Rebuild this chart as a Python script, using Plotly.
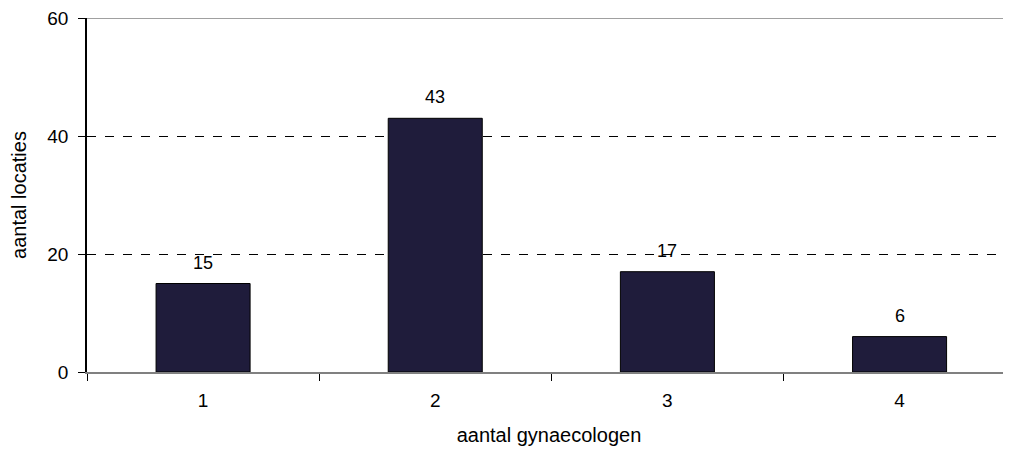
import plotly.graph_objects as go

categories = ["1", "2", "3", "4"]
values = [15, 43, 17, 6]
y_ticks = [0, 20, 40, 60]

FONT = "Liberation Sans, Arial"

fig = go.Figure()
fig.add_trace(go.Bar(
    x=categories, y=values,
    marker=dict(color="#1F1C3B", line=dict(color="black", width=1)),
    width=0.405,
))
for i, v in enumerate(values):
    fig.add_annotation(x=i, y=v, xref="x", yref="y", text=str(v), showarrow=False, yshift=21,
                       font=dict(family=FONT, size=18, color="black"))

fig.add_shape(type="line", xref="paper", x0=0, x1=1, yref="y", y0=60, y1=60,
              line=dict(color="#808080", width=1.5), layer="below")

fig.update_layout(
    width=1003, height=440,
    margin=dict(l=79, r=0, t=10, b=76, autoexpand=False),
    paper_bgcolor="white", plot_bgcolor="white",
    showlegend=False,
    font=dict(family=FONT, size=19, color="black"),
    xaxis=dict(
        type="category", range=[-0.5, 3.48], automargin=False,
        tickson="boundaries", ticks="outside", ticklen=7, tickcolor="black",
        tickfont=dict(family=FONT, size=19, color="black"),
        ticklabelstandoff=10, ticklabeloverflow="allow",
        showline=True, linecolor="#808080", linewidth=1.5,
        showgrid=False, zeroline=False,
        title=dict(text="aantal gynaecologen", standoff=18, font=dict(size=20)),
    ),
    yaxis=dict(
        range=[0, 60], tickvals=y_ticks, automargin=False,
        ticks="outside", ticklen=7, tickcolor="black",
        tickfont=dict(family=FONT, size=19, color="black"),
        ticklabelstandoff=6, ticklabeloverflow="allow",
        showline=True, linecolor="black", linewidth=1.5,
        showgrid=True, gridcolor="black", griddash="dash", gridwidth=1,
        zeroline=False,
        title=dict(text="aantal locaties", standoff=27, font=dict(size=20)),
    ),
)
fig.write_html("out.html")
